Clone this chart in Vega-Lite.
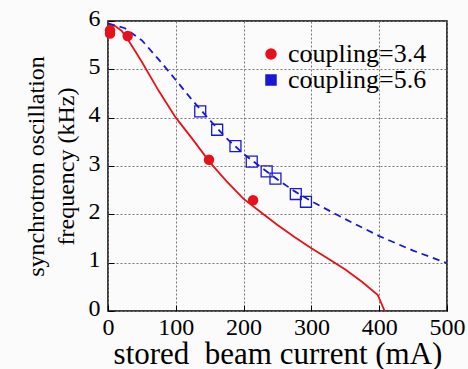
{
  "$schema": "https://vega.github.io/schema/vega-lite/v6.json",
  "width": 339,
  "height": 290,
  "autosize": {"type": "none"},
  "padding": {"left": 108, "top": 21, "right": 21, "bottom": 58},
  "background": "#fbfbfb",
  "config": {
    "view": {"stroke": "#000000", "strokeWidth": 1.5},
    "font": "Liberation Serif",
    "axis": {
      "labelFont": "Liberation Serif", "titleFont": "Liberation Serif",
      "labelFontSize": 24, "titleFontSize": 28, "titleFontWeight": "normal",
      "labelColor": "#000000", "titleColor": "#000000"
    },
    "legend": {"labelFont": "Liberation Serif", "labelFontSize": 26}
  },
  "datasets": {
    "red_curve": [
      {"current": 0, "freq": 5.93, "series": "coupling=3.4"},
      {"current": 10, "freq": 5.9, "series": "coupling=3.4"},
      {"current": 20, "freq": 5.8, "series": "coupling=3.4"},
      {"current": 30, "freq": 5.6, "series": "coupling=3.4"},
      {"current": 40, "freq": 5.38, "series": "coupling=3.4"},
      {"current": 50, "freq": 5.15, "series": "coupling=3.4"},
      {"current": 75, "freq": 4.55, "series": "coupling=3.4"},
      {"current": 100, "freq": 4.0, "series": "coupling=3.4"},
      {"current": 125, "freq": 3.55, "series": "coupling=3.4"},
      {"current": 150, "freq": 3.08, "series": "coupling=3.4"},
      {"current": 175, "freq": 2.68, "series": "coupling=3.4"},
      {"current": 200, "freq": 2.32, "series": "coupling=3.4"},
      {"current": 225, "freq": 2.05, "series": "coupling=3.4"},
      {"current": 250, "freq": 1.78, "series": "coupling=3.4"},
      {"current": 275, "freq": 1.53, "series": "coupling=3.4"},
      {"current": 300, "freq": 1.3, "series": "coupling=3.4"},
      {"current": 325, "freq": 1.08, "series": "coupling=3.4"},
      {"current": 350, "freq": 0.86, "series": "coupling=3.4"},
      {"current": 375, "freq": 0.6, "series": "coupling=3.4"},
      {"current": 398, "freq": 0.33, "series": "coupling=3.4"},
      {"current": 408, "freq": 0.0, "series": "coupling=3.4"}
    ],
    "blue_curve": [
      {"current": 0, "freq": 5.95, "series": "coupling=5.6"},
      {"current": 25, "freq": 5.85, "series": "coupling=5.6"},
      {"current": 50, "freq": 5.6, "series": "coupling=5.6"},
      {"current": 75, "freq": 5.2, "series": "coupling=5.6"},
      {"current": 100, "freq": 4.78, "series": "coupling=5.6"},
      {"current": 125, "freq": 4.35, "series": "coupling=5.6"},
      {"current": 150, "freq": 3.95, "series": "coupling=5.6"},
      {"current": 175, "freq": 3.57, "series": "coupling=5.6"},
      {"current": 200, "freq": 3.25, "series": "coupling=5.6"},
      {"current": 225, "freq": 2.98, "series": "coupling=5.6"},
      {"current": 250, "freq": 2.72, "series": "coupling=5.6"},
      {"current": 275, "freq": 2.48, "series": "coupling=5.6"},
      {"current": 300, "freq": 2.27, "series": "coupling=5.6"},
      {"current": 350, "freq": 1.9, "series": "coupling=5.6"},
      {"current": 400, "freq": 1.55, "series": "coupling=5.6"},
      {"current": 450, "freq": 1.25, "series": "coupling=5.6"},
      {"current": 500, "freq": 0.99, "series": "coupling=5.6"}
    ],
    "red_points": [
      {"current": 3, "freq": 5.81, "series": "coupling=3.4"},
      {"current": 3, "freq": 5.74, "series": "coupling=3.4"},
      {"current": 29, "freq": 5.69, "series": "coupling=3.4"},
      {"current": 149, "freq": 3.13, "series": "coupling=3.4"},
      {"current": 214, "freq": 2.29, "series": "coupling=3.4"}
    ],
    "blue_points": [
      {"current": 136, "freq": 4.13, "series": "coupling=5.6"},
      {"current": 161, "freq": 3.75, "series": "coupling=5.6"},
      {"current": 188, "freq": 3.41, "series": "coupling=5.6"},
      {"current": 212, "freq": 3.09, "series": "coupling=5.6"},
      {"current": 234, "freq": 2.89, "series": "coupling=5.6"},
      {"current": 247, "freq": 2.74, "series": "coupling=5.6"},
      {"current": 277, "freq": 2.42, "series": "coupling=5.6"},
      {"current": 292, "freq": 2.26, "series": "coupling=5.6"}
    ]
  },
  "encoding": {
    "x": {
      "field": "current", "type": "quantitative",
      "scale": {"domain": [0, 500], "nice": false},
      "axis": {
        "values": [0, 100, 200, 300, 400, 500],
        "labelFont": "Liberation Serif",
        "titleFont": "Liberation Serif",
        "labelFlush": false,
        "domain": false,
        "tickSize": -6,
        "tickColor": "#000000",
        "grid": true,
        "gridColor": "#777777",
        "gridDash": [2, 2],
        "gridOpacity": 1,
        "labelPadding": 10,
        "title": "stored\u00a0 beam current (mA)",
        "titleFontSize": 31,
        "titlePadding": 0
      }
    },
    "y": {
      "field": "freq", "type": "quantitative",
      "scale": {"domain": [0, 6], "nice": false},
      "axis": {
        "values": [0, 1, 2, 3, 4, 5, 6],
        "labelFont": "Liberation Serif",
        "titleFont": "Liberation Serif",
        "domain": false,
        "tickSize": -6,
        "tickColor": "#000000",
        "grid": true,
        "gridColor": "#777777",
        "gridDash": [2, 2],
        "gridOpacity": 1,
        "labelPadding": 14,
        "labelOffset": -3,
        "title": ["synchrotron oscillation", "frequency (kHz)"],
        "titleFontSize": 24,
        "titleLineHeight": 30,
        "titlePadding": 10
      }
    },
    "color": {
      "field": "series", "type": "nominal",
      "scale": {"domain": ["coupling=3.4", "coupling=5.6"], "range": ["#e5121b", "#1818d4"]},
      "legend": {"orient": "top-right", "offset": 20, "title": null, "labelFont": "Liberation Serif", "labelFontSize": 26, "symbolSize": 100, "rowPadding": 0}
    }
  },
  "layer": [
    {
      "data": {"name": "red_curve"},
      "mark": {"type": "line", "strokeWidth": 1.8}
    },
    {
      "data": {"name": "blue_curve"},
      "mark": {"type": "line", "strokeWidth": 1.8, "strokeDash": [7, 5]}
    },
    {
      "data": {"name": "red_points"},
      "mark": {"type": "point", "filled": true, "opacity": 1, "size": 110},
      "encoding": {
        "shape": {
          "field": "series", "type": "nominal",
          "scale": {"domain": ["coupling=3.4", "coupling=5.6"], "range": ["circle", "square"]}
        }
      }
    },
    {
      "data": {"name": "blue_points"},
      "mark": {"type": "point", "opacity": 1, "strokeWidth": 1.3, "size": 120},
      "encoding": {
        "shape": {
          "field": "series", "type": "nominal",
          "scale": {"domain": ["coupling=3.4", "coupling=5.6"], "range": ["circle", "square"]}
        }
      }
    }
  ]
}
